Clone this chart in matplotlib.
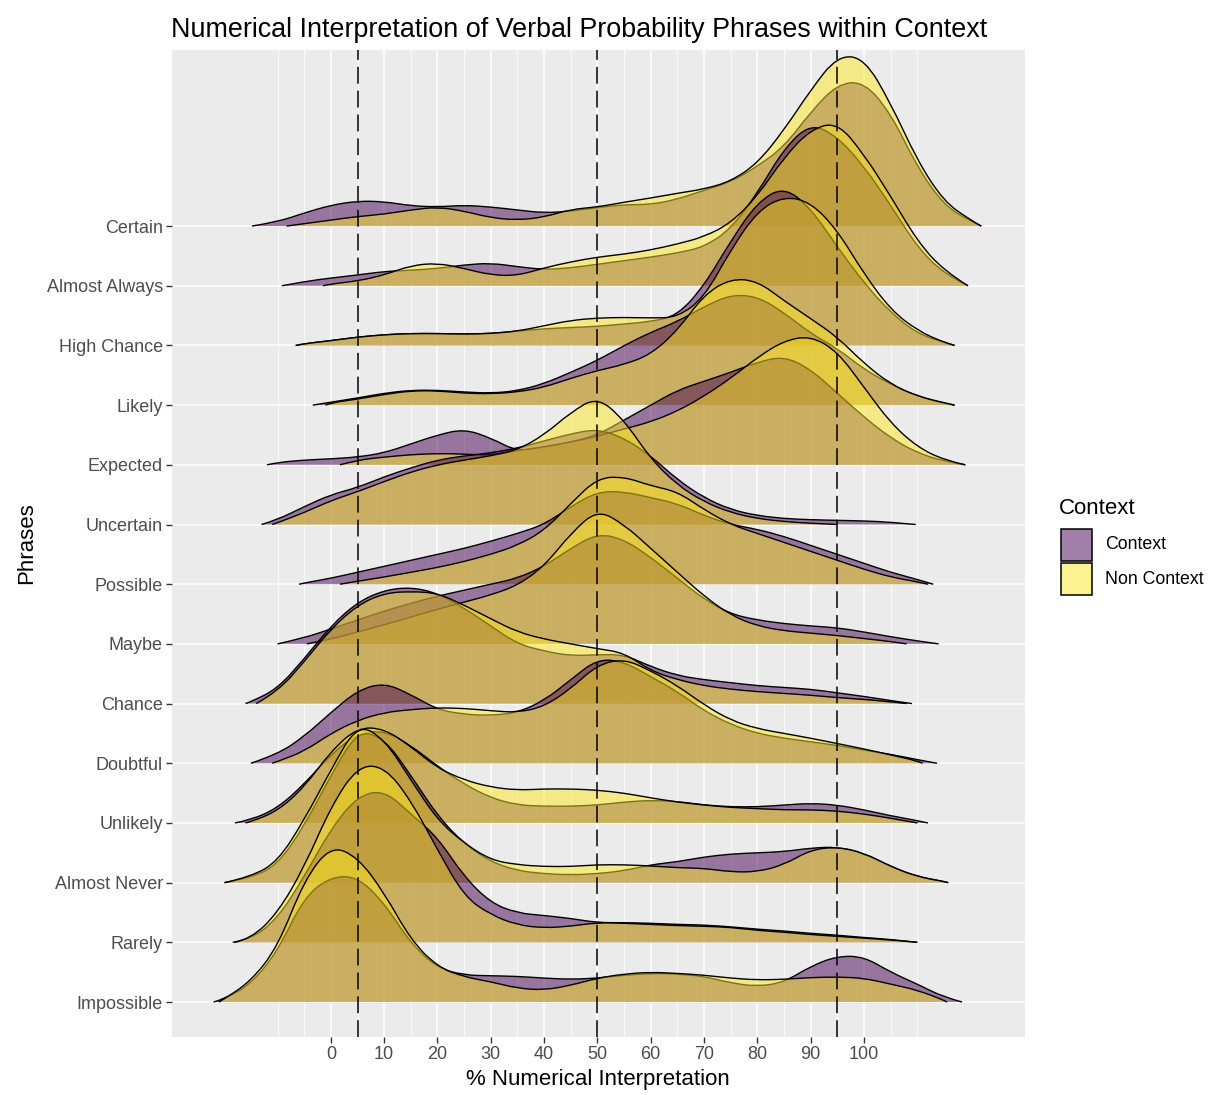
import numpy as np
import matplotlib
matplotlib.use("Agg")
import matplotlib.pyplot as plt
from matplotlib.patches import Rectangle, PathPatch
from matplotlib.path import Path

plt.rcParams['font.family'] = ['Liberation Sans', 'DejaVu Sans']

# rows from bottom to top
phrases = ["Impossible", "Rarely", "Almost Never", "Unlikely", "Doubtful", "Chance",
           "Maybe", "Possible", "Uncertain", "Expected", "Likely", "High Chance",
           "Almost Always", "Certain"]

# where each density starts / ends on the % axis
ctx_start = [-22, -18.4, -20, -18, -15, -16, -10, -6, -13, -12, -3.4, -6.6, -9.2, -14.8]
ctx_end = [118.4, 110, 115.8, 112, 113.7, 109, 114, 113, 109.7, 119, 117, 117, 119.5, 122]
non_start = [-21, -18, -19.9, -16, -11, -14, -4.5, 1.7, -11, 1.7, -1, -6.6, -1.5, -8.3]
non_end = [115.6, 110, 115.8, 110, 111, 108, 108, 112, 95, 119, 117, 117, 119.5, 122]

# ridge heights (in row units) read every 5 points, from the first multiple of 5 after start
ctx_impossible = [.05, .3, .85, 1.76, 2.1, 2.1, 1.66, .98, .57, .45, .44, .43, .4, .38, .4, .45, .48, .47,
                  .43, .32, .26, .33, .6, .77, .76, .5, .3, .08]
non_impossible = [.05, .35, .92, 2.04, 2.62, 2.43, 1.83, 1.04, .59, .42, .34, .23, .2, .28, .4, .47, .5, .48,
                  .45, .4, .37, .38, .41, .42, .4, .3, .2, .03]
ctx_rarely = [.05, .4, 1.1, 1.9, 2.45, 2.55, 2.15, 1.76, 1.1, .66, .49, .45, .4, .33, .33, .32, .3, .29, .26,
              .22, .19, .15, .12, .08, .05]
non_rarely = [.06, .49, 1.26, 2.27, 2.95, 2.95, 2.38, 1.55, .77, .46, .29, .24, .27, .33, .32, .3, .28, .27,
              .25, .2, .17, .13, .1, .07, .04]
ctx_almost_never = [.08, .3, .95, 1.8, 2.55, 2.42, 1.8, 1.12, .65, .35, .2, .15, .13, .15, .2, .3, .35, .43,
                    .48, .5, .52, .58, .6, .49, .27, .1, .02]
non_almost_never = [.1, .35, 1.05, 1.89, 2.66, 2.41, 1.72, 1.05, .66, .38, .3, .27, .27, .3, .3, .28, .25,
                    .24, .18, .18, .3, .55, .6, .5, .27, .1, .02]
ctx_unlikely = [.05, .25, .65, 1.15, 1.5, 1.55, 1.3, .95, .65, .42, .3, .28, .28, .3, .35, .38, .36, .3, .27,
                .27, .3, .33, .3, .22, .12, .04]
non_unlikely = [.02, .2, .6, 1.2, 1.6, 1.58, 1.28, .92, .72, .6, .55, .57, .57, .55, .5, .42, .35, .3, .26,
                .24, .22, .22, .2, .15, .08]
ctx_doubtful = [.15, .45, .85, 1.22, 1.35, 1.15, .9, .82, .8, .85, 1.05, 1.4, 1.75, 1.7, 1.45, 1.2, .88, .65,
                .5, .42, .36, .3, .22, .15, .06]
non_doubtful = [.03, .2, .5, .72, .85, .9, .93, .92, .88, .85, .95, 1.25, 1.65, 1.75, 1.55, 1.3, .98, .72,
                .58, .5, .42, .33, .24, .14, .04]
ctx_chance = [.03, .25, .75, 1.3, 1.7, 1.9, 1.95, 1.85, 1.6, 1.3, 1.0, .88, .8, .82, .82, .62, .47, .4, .35,
              .3, .27, .24, .18, .12, .05]
non_chance = [.2, .7, 1.25, 1.65, 1.85, 1.88, 1.85, 1.65, 1.42, 1.2, 1.08, 1.0, .92, .85, .55, .4, .3, .24,
              .2, .17, .14, .1, .07, .03]
ctx_maybe = [.1, .25, .4, .55, .68, .8, .9, 1.0, 1.1, 1.3, 1.6, 1.85, 1.75, 1.45, 1.1, .75, .5, .4, .34, .3,
             .27, .2, .12, .05]
non_maybe = [.08, .2, .32, .45, .58, .7, .82, .98, 1.3, 1.85, 2.25, 2.0, 1.6, 1.2, .8, .48, .3, .22, .18, .14,
             .09, .04]
ctx_possible = [.02, .1, .2, .3, .4, .5, .6, .72, .85, 1.0, 1.3, 1.55, 1.55, 1.45, 1.35, 1.15, 1.0, .92, .8,
                .65, .5, .35, .2, .08]
non_possible = [.05, .12, .2, .28, .38, .5, .65, .9, 1.35, 1.78, 1.8, 1.65, 1.55, 1.25, 1.0, .85, .7, .55,
                .4, .25, .12, .04]
ctx_uncertain = [.08, .3, .5, .62, .8, .95, 1.08, 1.15, 1.2, 1.28, 1.4, 1.52, 1.6, 1.45, 1.15, .75, .45, .25,
                 .15, .1, .08, .07, .06, .04]
non_uncertain = [.03, .2, .4, .55, .72, .88, 1.0, 1.08, 1.15, 1.25, 1.5, 1.88, 2.14, 1.75, 1.1, .66, .38, .2,
                 .1, .05, .02]
ctx_expected = [.04, .08, .1, .13, .2, .35, .5, .6, .45, .22, .3, .38, .5, .75, 1.0, 1.25, 1.4, 1.55, 1.72,
                1.82, 1.6, 1.2, .8, .45, .2, .06]
non_expected = [.08, .13, .17, .19, .18, .16, .24, .3, .38, .48, .6, .72, .9, 1.15, 1.45, 1.8, 2.08, 2.16,
                1.9, 1.3, .7, .3, .08]
ctx_likely = [.05, .12, .2, .25, .25, .22, .2, .24, .36, .55, .75, 1.0, 1.22, 1.4, 1.65, 1.85, 1.82, 1.55, 1.2,
              .95, .6, .35, .15, .03]
non_likely = [.04, .1, .18, .24, .24, .2, .19, .22, .3, .45, .58, .68, .85, 1.25, 1.85, 2.12, 2.08, 1.75,
              1.45, 1.14, .7, .35, .15, .04]
ctx_high_chance = [.03, .08, .14, .18, .2, .2, .19, .2, .24, .28, .3, .32, .36, .4, .5, 1.0, 1.75, 2.4, 2.66,
                   2.3, 1.65, 1.05, .55, .2, .05]
non_high_chance = [.03, .08, .14, .18, .2, .2, .19, .2, .24, .33, .42, .46, .47, .46, .47, .8, 1.6, 2.25,
                   2.5, 2.4, 1.93, 1.2, .6, .25, .05]
ctx_almost_always = [.07, .13, .18, .24, .26, .29, .35, .38, .32, .27, .3, .36, .42, .48, .55, .65, .95, 1.55,
                     2.3, 2.72, 2.5, 2.0, 1.35, .65, .2]
non_almost_always = [.03, .08, .18, .34, .38, .29, .18, .17, .3, .4, .48, .53, .6, .7, .82, 1.05, 1.5, 2.15,
                     2.62, 2.74, 2.2, 1.5, .75, .25]
ctx_certain = [.07, .22, .35, .42, .41, .34, .32, .35, .32, .27, .22, .25, .31, .36, .36, .45, .6, .74, 1.0,
               1.33, 1.91, 2.38, 2.42, 1.89, .99, .35, .08]
non_certain = [.04, .1, .16, .2, .27, .32, .25, .14, .1, .15, .28, .32, .4, .47, .55, .62, .75, 1.05, 1.61,
               2.28, 2.85, 2.82, 2.06, 1.1, .41, .1]

ctx_heights = [ctx_impossible, ctx_rarely, ctx_almost_never, ctx_unlikely, ctx_doubtful, ctx_chance,
               ctx_maybe, ctx_possible, ctx_uncertain, ctx_expected, ctx_likely, ctx_high_chance,
               ctx_almost_always, ctx_certain]
non_heights = [non_impossible, non_rarely, non_almost_never, non_unlikely, non_doubtful, non_chance,
               non_maybe, non_possible, non_uncertain, non_expected, non_likely, non_high_chance,
               non_almost_always, non_certain]

cutoffs = [5, 50, 95]
x_breaks = list(range(0, 101, 10))
x_minor = [-10, -5] + list(range(5, 100, 10)) + [105, 110]

ctx_color = "#440154"
non_color = "#FDE725"


def ridge_xy(start, end, heights):
    first = 5 * np.floor(start / 5) + 5
    xs = first + 5 * np.arange(len(heights))
    keep = xs < end
    return np.r_[start, xs[keep], end], np.r_[0, np.asarray(heights)[keep], 0]


def ridge_path(xs, ys, base, closed):
    # quadratic bezier through the read points so the ridge is drawn smooth
    pts = np.column_stack([xs, base + ys])
    verts, codes = [pts[0]], [Path.MOVETO]
    n = len(pts)
    for i in range(1, n - 1):
        end = pts[i + 1] if i == n - 2 else (pts[i] + pts[i + 1]) / 2
        verts += [pts[i], end]
        codes += [Path.CURVE3, Path.CURVE3]
    if closed:
        verts += [(xs[-1], base), (xs[0], base), (xs[0], base)]
        codes += [Path.LINETO, Path.LINETO, Path.CLOSEPOLY]
    return Path(verts, codes)


fig = plt.figure(figsize=(12.15, 10.95), dpi=100)
W, H = 1215, 1095
ax = fig.add_axes([172 / W, 1 - 1037 / H, (1025 - 172) / W, (1037 - 50) / H])
ax.set_facecolor("#EBEBEB")
for s in ax.spines.values():
    s.set_visible(False)

ax.set_xlim(-29.8, 130.2)
ax.set_ylim(0.414, 16.95)

ax.set_xticks(x_breaks)
ax.set_xticks(x_minor, minor=True)
ax.set_yticks(range(1, len(phrases) + 1))
ax.set_yticklabels(phrases)
ax.grid(which="major", color="white", lw=1.1)
ax.grid(which="minor", axis="x", color="white", lw=0.55)
ax.set_axisbelow(True)
ax.tick_params(which="major", length=4, width=1.0, color="#333333", labelcolor="#4D4D4D",
               labelsize=13, pad=2.5)
ax.tick_params(which="minor", length=0)

# ridges: top row first so lower rows sit in front; Context under Non Context
for i in reversed(range(len(phrases))):
    base = i + 1
    for start, end, h, col in ((ctx_start[i], ctx_end[i], ctx_heights[i], ctx_color),
                               (non_start[i], non_end[i], non_heights[i], non_color)):
        xs, ys = ridge_xy(start, end, h)
        ax.add_patch(PathPatch(ridge_path(xs, ys, base, True), facecolor=col, alpha=0.5, lw=0))
        ax.add_patch(PathPatch(ridge_path(xs, ys, base, False), facecolor="none", edgecolor="black",
                               lw=1.0, joinstyle="round"))

for c in cutoffs:
    ax.axvline(c, color="black", lw=1.1, ls=(0, (11, 4.6)), zorder=5)

fig.text(598 / W, 1 - 1079 / H, "% Numerical Interpretation", fontsize=16, ha="center", va="center")
fig.text(27 / W, 1 - 543 / H, "Phrases", fontsize=16, ha="center", va="center", rotation=90)
fig.text(171 / W, 1 - 30 / H, "Numerical Interpretation of Verbal Probability Phrases within Context",
         fontsize=19.4, ha="left", va="center")

# legend
fig.text(1059 / W, 1 - 508 / H, "Context", fontsize=16, ha="left", va="center")
for k, (lab, col) in enumerate((("Context", ctx_color), ("Non Context", non_color))):
    top = 528 + 34 * k
    fig.add_artist(Rectangle((1061 / W, 1 - (top + 33) / H), 31 / W, 32 / H, transform=fig.transFigure,
                             facecolor=col, alpha=0.5, lw=0))
    fig.add_artist(Rectangle((1061 / W, 1 - (top + 33) / H), 31 / W, 32 / H, transform=fig.transFigure,
                             facecolor="none", edgecolor="black", lw=1.1))
    fig.text(1105 / W, 1 - (top + 17) / H, lab, fontsize=12.8, ha="left", va="center", color="black")

fig.savefig("out.png", dpi=100)
